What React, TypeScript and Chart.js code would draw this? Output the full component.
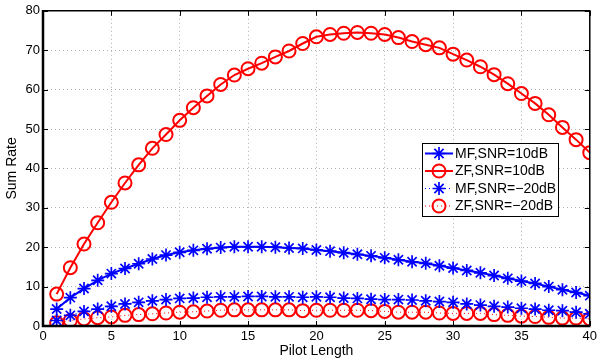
import React, { useEffect, useRef } from 'react';
import { Chart, registerables } from 'chart.js';

Chart.register(...registerables);

const pilotLength = [1, 2, 3, 4, 5, 6, 7, 8, 9, 10, 11, 12, 13, 14, 15, 16, 17, 18, 19, 20, 21, 22, 23, 24, 25, 26, 27, 28, 29, 30, 31, 32, 33, 34, 35, 36, 37, 38, 39, 40];

const mf10 = [4.3, 7.2, 9.5, 11.6, 13.3, 14.6, 15.8, 17.0, 18.0, 18.7, 19.2, 19.6, 19.9, 20.1, 20.1, 20.1, 20.0, 19.8, 19.7, 19.3, 19.0, 18.6, 18.2, 17.8, 17.3, 16.8, 16.3, 15.9, 15.3, 14.7, 14.1, 13.5, 12.8, 12.1, 11.4, 10.8, 10.0, 9.2, 8.5, 7.7];
const zf10 = [8.1, 14.8, 20.8, 26.2, 31.4, 36.3, 40.9, 45.1, 48.6, 52.2, 55.4, 58.4, 61.3, 63.7, 65.3, 66.7, 68.3, 69.8, 71.7, 73.4, 74.0, 74.3, 74.5, 74.3, 74.0, 73.2, 72.2, 71.4, 70.6, 69.0, 67.5, 65.8, 63.8, 61.5, 59.0, 56.5, 53.6, 50.4, 47.3, 44.0];
const mfm20 = [1.4, 2.7, 3.7, 4.3, 5.0, 5.6, 6.0, 6.4, 6.7, 7.0, 7.1, 7.3, 7.4, 7.4, 7.5, 7.5, 7.4, 7.4, 7.3, 7.4, 7.3, 7.1, 7.0, 6.8, 6.7, 6.7, 6.6, 6.4, 6.2, 6.0, 5.6, 5.3, 5.0, 4.8, 4.5, 4.3, 4.0, 3.9, 3.5, 3.1];
const zfm20 = [0.8, 1.4, 1.8, 2.1, 2.3, 2.7, 2.9, 3.1, 3.3, 3.5, 3.6, 3.8, 4.0, 4.1, 4.1, 4.1, 4.1, 4.1, 3.9, 4.0, 4.0, 4.0, 4.0, 3.9, 3.7, 3.5, 3.5, 3.5, 3.3, 3.2, 3.2, 3.2, 2.9, 2.7, 2.5, 2.4, 2.2, 2.0, 2.0, 1.8];

const seriesNames = ['MF,SNR=10dB', 'ZF,SNR=10dB', 'MF,SNR=\u221220dB', 'ZF,SNR=\u221220dB'];
const xTicks = [0, 5, 10, 15, 20, 25, 30, 35, 40];
const yTicks = [0, 10, 20, 30, 40, 50, 60, 70, 80];

const FONT = '"Liberation Sans", Arial, Helvetica, sans-serif';

const toPts = (ys: number[]) => pilotLength.map((x, i) => ({ x, y: ys[i] }));

const boxPlugin = {
  id: 'matlabBox',
  afterDraw(chart: any) {
    const { ctx, chartArea: a, scales } = chart;
    ctx.save();
    // inward ticks
    ctx.strokeStyle = '#000';
    ctx.lineWidth = 1;
    ctx.beginPath();
    xTicks.forEach((v) => {
      const px = Math.round(scales.x.getPixelForValue(v)) + 0.5;
      ctx.moveTo(px, a.bottom);
      ctx.lineTo(px, a.bottom - 5);
      ctx.moveTo(px, a.top);
      ctx.lineTo(px, a.top + 5);
    });
    yTicks.forEach((v) => {
      const py = Math.round(scales.y.getPixelForValue(v)) + 0.5;
      ctx.moveTo(a.left, py);
      ctx.lineTo(a.left + 5, py);
      ctx.moveTo(a.right, py);
      ctx.lineTo(a.right - 5, py);
    });
    ctx.stroke();
    // box: thin top/right, thicker left/bottom
    ctx.lineWidth = 1.5;
    ctx.beginPath();
    ctx.moveTo(a.left, a.top);
    ctx.lineTo(a.right, a.top);
    ctx.lineTo(a.right, a.bottom);
    ctx.stroke();
    ctx.lineWidth = 2.5;
    ctx.beginPath();
    ctx.moveTo(a.left, a.top - 0.75);
    ctx.lineTo(a.left, a.bottom);
    ctx.lineTo(a.right + 0.75, a.bottom);
    ctx.stroke();

    // legend
    const lx = 422, ly = 143, lw = 136, lh = 73;
    ctx.fillStyle = '#fff';
    ctx.fillRect(lx, ly, lw, lh);
    ctx.lineWidth = 1;
    ctx.strokeStyle = '#000';
    ctx.strokeRect(lx + 0.5, ly + 0.5, lw, lh);
    chart.data.datasets.forEach((ds: any, i: number) => {
      const cy = ly + 10.5 + i * 17.5;
      const x0 = lx + 3, x1 = lx + 31, cx = (x0 + x1) / 2;
      ctx.save();
      ctx.strokeStyle = ds.borderColor;
      ctx.lineWidth = ds.borderWidth;
      ctx.setLineDash(ds.borderDash || []);
      ctx.beginPath();
      ctx.moveTo(x0, cy);
      ctx.lineTo(x1, cy);
      ctx.stroke();
      ctx.restore();
      ctx.save();
      ctx.strokeStyle = ds.pointBorderColor;
      ctx.lineWidth = ds.pointBorderWidth;
      if (ds.pointStyle === 'circle') {
        ctx.beginPath();
        ctx.arc(cx, cy, ds.pointRadius, 0, Math.PI * 2);
        ctx.stroke();
      } else {
        const r = ds.pointRadius;
        ctx.beginPath();
        for (let k = 0; k < 4; k++) {
          const ang = (k * Math.PI) / 4;
          ctx.moveTo(cx - r * Math.cos(ang), cy - r * Math.sin(ang));
          ctx.lineTo(cx + r * Math.cos(ang), cy + r * Math.sin(ang));
        }
        ctx.stroke();
      }
      ctx.restore();
      ctx.fillStyle = '#000';
      ctx.font = '14px ' + FONT;
      ctx.textBaseline = 'middle';
      ctx.fillText(ds.label, lx + 33, cy + 0.5);
    });
    ctx.restore();
  },
};

export default function App() {
  const ref = useRef<HTMLCanvasElement>(null);
  useEffect(() => {
    document.body.style.margin = '0';
    const chart = new Chart(ref.current!, {
      type: 'line',
      data: {
        datasets: [
          {
            label: seriesNames[0],
            data: toPts(mf10),
            borderColor: '#0000ff',
            borderWidth: 2,
            pointStyle: 'star',
            pointRadius: 6.5,
            pointBorderColor: '#0000ff',
            pointBackgroundColor: '#0000ff',
            pointBorderWidth: 1.7,
          },
          {
            label: seriesNames[1],
            data: toPts(zf10),
            borderColor: '#ff0000',
            borderWidth: 2,
            pointStyle: 'circle',
            pointRadius: 6.5,
            pointBorderColor: '#ff0000',
            pointBackgroundColor: 'rgba(0,0,0,0)',
            pointBorderWidth: 2,
          },
          {
            label: seriesNames[2],
            data: toPts(mfm20),
            borderColor: '#0000ff',
            borderWidth: 1,
            borderDash: [1, 3],
            pointStyle: 'star',
            pointRadius: 6.5,
            pointBorderColor: '#0000ff',
            pointBackgroundColor: '#0000ff',
            pointBorderWidth: 1.7,
          },
          {
            label: seriesNames[3],
            data: toPts(zfm20),
            borderColor: '#ff0000',
            borderWidth: 1,
            borderDash: [1, 3],
            pointStyle: 'circle',
            pointRadius: 6.5,
            pointBorderColor: '#ff0000',
            pointBackgroundColor: 'rgba(0,0,0,0)',
            pointBorderWidth: 2,
          },
        ] as any,
      },
      options: {
        animation: false,
        responsive: false,
        maintainAspectRatio: false,
        layout: { padding: { top: 6, right: 7, left: 0, bottom: 0 } },
        plugins: { legend: { display: false }, tooltip: { enabled: false } },
        scales: {
          x: {
            type: 'linear',
            min: 0,
            max: 40,
            afterBuildTicks: (s: any) => { s.ticks = xTicks.map((v) => ({ value: v })); },
            afterFit: (s: any) => { s.height = 38; },
            ticks: { color: '#000', font: { family: FONT, size: 13 }, padding: 3, maxRotation: 0 },
            grid: { color: '#b0b0b0', lineWidth: 1, drawTicks: false },
            border: { display: false, dash: [1, 3] },
            title: { display: true, text: 'Pilot Length', color: '#000', font: { family: FONT, size: 14 }, padding: { top: 0, bottom: 4 } },
          },
          y: {
            type: 'linear',
            min: 0,
            max: 80,
            afterBuildTicks: (s: any) => { s.ticks = yTicks.map((v) => ({ value: v })); },
            afterFit: (s: any) => { s.width = 43; },
            ticks: { color: '#000', font: { family: FONT, size: 13 }, padding: 3 },
            grid: { color: '#b0b0b0', lineWidth: 1, drawTicks: false },
            border: { display: false, dash: [1, 3] },
            title: { display: true, text: 'Sum Rate', color: '#000', font: { family: FONT, size: 14 }, padding: { top: 4, bottom: 4 } },
          },
        },
      },
      plugins: [boxPlugin],
    });
    return () => chart.destroy();
  }, []);
  return <canvas ref={ref} width={600} height={364} style={{ display: 'block' }} />;
}
